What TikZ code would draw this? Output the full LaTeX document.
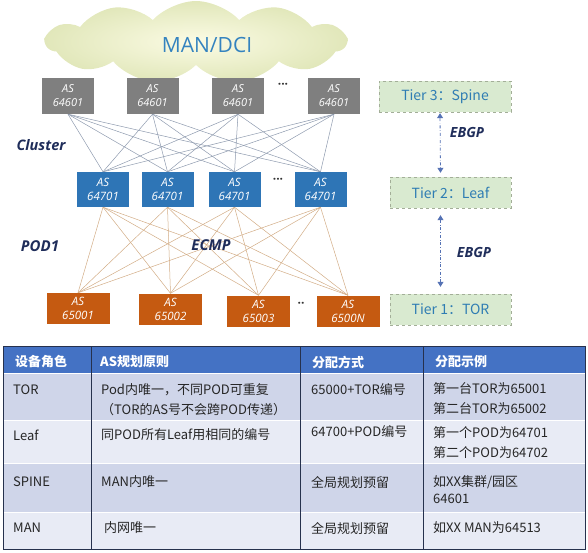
\documentclass[tikz,border=0pt]{standalone}
\usepackage{fontspec}
\setmainfont{Open Sans}
\newfontfamily\cjk{Noto Sans CJK SC}
\usetikzlibrary{shapes.symbols,arrows.meta}
\definecolor{spinegray}{HTML}{7F7F7F}
\definecolor{leafblue}{HTML}{2E75B6}
\definecolor{tororange}{HTML}{C55A11}
\definecolor{meshgray}{HTML}{8E9AAE}
\definecolor{meshtan}{HTML}{D2AC85}
\definecolor{navytext}{HTML}{1F2D5A}
\definecolor{cloudin}{HTML}{FBFBE4}
\definecolor{cloudout}{HTML}{E1E7BA}
\definecolor{mantext}{HTML}{3483BF}
\definecolor{tiergreen}{HTML}{D9EAD0}
\definecolor{tierborder}{HTML}{A3AE98}
\definecolor{tiertext}{HTML}{2F7DB3}
\definecolor{arrowblue}{HTML}{5572B4}
\definecolor{hdrblue}{HTML}{4472C4}
\definecolor{rowdark}{HTML}{CFD5E9}
\definecolor{rowlight}{HTML}{E8EBF5}
\definecolor{tabline}{HTML}{26314D}
\begin{document}
\begin{tikzpicture}[x=1pt,y=-1pt,
    box/.style={inner sep=0pt,align=center,text=white},
    spine/.style={box,fill=spinegray,minimum width=52pt,minimum height=36pt,
      font=\fontsize{11}{14}\selectfont\itshape},
    leaf/.style={box,fill=leafblue,minimum width=52pt,minimum height=35pt,
      font=\fontsize{11.5}{14}\selectfont\itshape},
    tor/.style={box,fill=tororange,minimum width=63pt,minimum height=31pt,
      font=\fontsize{11.5}{14}\selectfont\itshape},
    dots/.style={text=black!80,font=\fontsize{12}{12}\selectfont\bfseries},
    tag/.style={text=navytext,font=\fontsize{14.5}{16}\selectfont\bfseries\itshape},
    tier/.style={fill=tiergreen,draw=tierborder,dashed,thin,minimum height=31pt,
      inner sep=0pt,text=tiertext,font=\cjk\fontsize{14}{16}\selectfont},
    ebgp/.style={draw=arrowblue,dash dot,line width=0.8pt,
      {Triangle[width=6pt,length=5pt]}-{Triangle[width=6pt,length=5pt]}},
    cell/.style={anchor=west,inner sep=0pt,align=left,text=black!85,
      font=\cjk\fontsize{13}{20}\selectfont},
    head/.style={cell,text=white,font=\cjk\fontsize{13}{20}\selectfont\bfseries}]
  \useasboundingbox (0,0) rectangle (588,552);

  % cloud
  \node[cloud,cloud puffs=11,cloud puff arc=95,cloud ignores aspect,
    minimum width=300pt,minimum height=82pt,inner color=cloudin,outer color=cloudout]
    (cloud) at (196,42) {};
  \node[text=mantext,font=\fontsize{21}{24}\selectfont] (man) at (207,45) {MAN/DCI};

  % switches
  \draw
    (68,96) node[spine] (s1){AS\\64601}
    (152.5,96) node[spine] (s2){AS\\64601}
    (238,96) node[spine] (s3){AS\\64601}
    (334,96) node[spine] (s4){AS\\64601}
    (103,189.5) node[leaf] (l1){AS\\64701}
    (167.5,189.5) node[leaf] (l2){AS\\64701}
    (234.5,189.5) node[leaf] (l3){AS\\64701}
    (320.5,189.5) node[leaf] (l4){AS\\64701}
    (78,308.5) node[tor] (t1){AS\\65001}
    (170.5,309) node[tor] (t2){AS\\65002}
    (258.5,311) node[tor] (t3){AS\\65003}
    (348,311) node[tor] (t4){AS\\6500N};
  \node[dots] (d1) at (283,86) {···};
  \node[dots] (d2) at (278,181) {···};
  \node[dots] (d3) at (301,305) {··};

  \begin{scope}[meshgray,line width=0.5pt]
    \draw (s1.south) to (l1.north);
    \draw (s1.south) to (l2.north);
    \draw (s1.south) to (l3.north);
    \draw (s1.south) to (l4.north);
    \draw (s2.south) to (l1.north);
    \draw (s2.south) to (l2.north);
    \draw (s2.south) to (l3.north);
    \draw (s2.south) to (l4.north);
    \draw (s3.south) to (l1.north);
    \draw (s3.south) to (l2.north);
    \draw (s3.south) to (l3.north);
    \draw (s3.south) to (l4.north);
    \draw (s4.south) to (l1.north);
    \draw (s4.south) to (l2.north);
    \draw (s4.south) to (l3.north);
    \draw (s4.south) to (l4.north);
  \end{scope}
  \begin{scope}[meshtan,line width=0.5pt]
    \draw (l1.south) to (t1.north);
    \draw (l1.south) to (t2.north);
    \draw (l1.south) to (t3.north);
    \draw (l1.south) to (t4.north);
    \draw (l2.south) to (t1.north);
    \draw (l2.south) to (t2.north);
    \draw (l2.south) to (t3.north);
    \draw (l2.south) to (t4.north);
    \draw (l3.south) to (t1.north);
    \draw (l3.south) to (t2.north);
    \draw (l3.south) to (t3.north);
    \draw (l3.south) to (t4.north);
    \draw (l4.south) to (t1.north);
    \draw (l4.south) to (t2.north);
    \draw (l4.south) to (t3.north);
    \draw (l4.south) to (t4.north);
  \end{scope}

  \node[tag] (cluster) at (41,145) {Cluster};
  \node[tag,font=\fontsize{15}{16}\selectfont\bfseries\itshape] (pod) at (40,246) {POD1};
  \node[tag,font=\fontsize{15}{16}\selectfont\bfseries\itshape] (ecmp) at (211,245) {ECMP};

  % tiers
  \node[tier,minimum width=132pt] (tier3) at (445,96.5) {Tier 3：Spine};
  \node[tier,minimum width=121pt] (tier2) at (450.5,192.5) {Tier 2：Leaf};
  \node[tier,minimum width=121pt] (tier1) at (450.5,309.5) {Tier 1：TOR};
  \draw[ebgp,shorten <=1pt,shorten >=4pt] ([xshift=-5pt]tier3.south) -- ([xshift=-10pt]tier2.north);
  \draw[ebgp,shorten <=7pt,shorten >=7pt] ([xshift=-10pt]tier2.south) -- ([xshift=-10pt]tier1.north);
  \node[tag,font=\fontsize{14}{16}\selectfont\bfseries\itshape] (e1) at (467,132) {EBGP};
  \node[tag,font=\fontsize{14}{16}\selectfont\bfseries\itshape] (e2) at (474,252) {EBGP};

  % table
  \fill[hdrblue] (3,346) rectangle (585,373);
  \fill[rowdark] (3,373) rectangle (585,420);
  \fill[rowlight] (3,420) rectangle (585,463);
  \fill[rowdark] (3,463) rectangle (585,512);
  \fill[rowlight] (3,512) rectangle (585,549);
  \draw[white,line width=1pt] (3,373) -- (585,373) (3,420) -- (585,420)
    (3,463) -- (585,463) (3,512) -- (585,512);
  \draw[tabline,line width=0.9pt] (91,346) -- (91,549) (300,346) -- (300,549)
    (423,346) -- (423,549);
  \draw[tabline,line width=1pt] (3,346) rectangle (585,549);

  \node[head] (h1) at (15,362) {设备角色};
  \node[head] (h2) at (100,362) {AS规划原则};
  \node[head] (h3) at (312,362) {分配方式};
  \node[head] (h4) at (435,362) {分配示例};

  \node[cell] (c11) at (13,390) {TOR};
  \node[cell] (c12) at (101,400) {Pod内唯一，不同POD可重复\\（TOR的AS号不会跨POD传递）};
  \node[cell] (c13) at (311,390) {65000+TOR编号};
  \node[cell] (c14) at (433,399) {第一台TOR为65001\\第二台TOR为65002};

  \node[cell] (c21) at (13,435) {Leaf};
  \node[cell] (c22) at (101,435) {同POD所有Leaf用相同的编号};
  \node[cell] (c23) at (311,432) {64700+POD编号};
  \node[cell] (c24) at (433,442.5) {第一个POD为64701\\第二个POD为64702};

  \node[cell] (c31) at (13,482) {SPINE};
  \node[cell] (c32) at (101,482) {MAN内唯一};
  \node[cell] (c33) at (311,482) {全局规划预留};
  \node[cell,font=\cjk\fontsize{13}{17}\selectfont] (c34) at (433,490) {如XX集群/园区\\64601};

  \node[cell] (c41) at (13,528) {MAN};
  \node[cell] (c42) at (104,528) {内网唯一};
  \node[cell] (c43) at (311,528) {全局规划预留};
  \node[cell] (c44) at (433,528) {如XX MAN为64513};
\end{tikzpicture}
\end{document}
